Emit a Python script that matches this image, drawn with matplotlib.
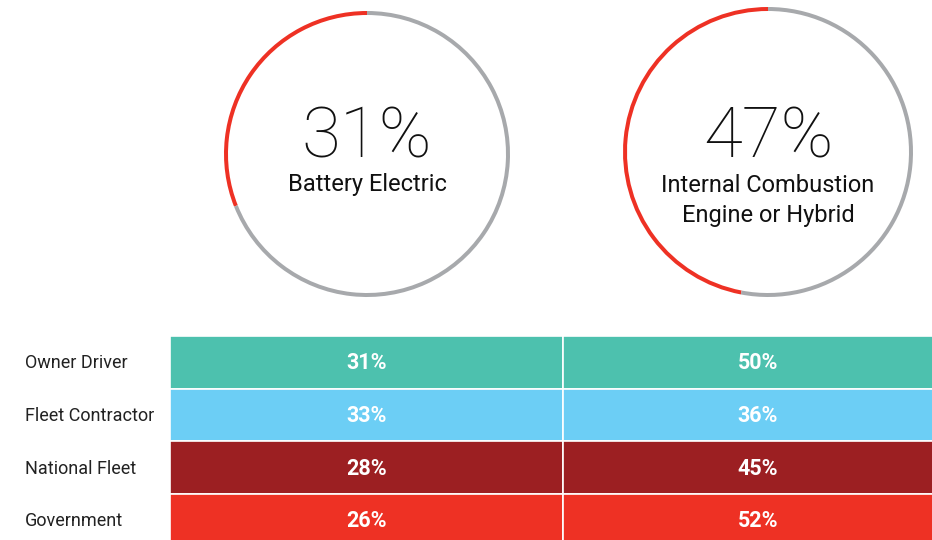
import matplotlib
matplotlib.use("Agg")
import matplotlib.pyplot as plt
import numpy as np

# Headline shares (donuts)
donut_values = [31, 47]
donut_labels = ["Battery Electric", "Internal Combustion\nEngine or Hybrid"]

# Table by segment
segments = ["Owner Driver", "Fleet Contractor", "National Fleet", "Government"]
battery_electric = [31, 33, 28, 26]
ice_or_hybrid = [50, 36, 45, 52]

COLORS = {
    "red": "#EE3124",
    "gray": "#A7A9AC",
    "text": "#111111",
    "rows": ["#4DC1AE", "#6CCEF5", "#9C1F22", "#EE3124"],
}

W, H = 932, 540
fig = plt.figure(figsize=(W / 100, H / 100), dpi=100)
fig.patch.set_facecolor("white")

# donut geometry in pixels: (center x, center y, radius)
donut_geom = [(367, 154, 143), (768, 152, 145)]

for (cx, cy, r), val, lab in zip(donut_geom, donut_values, donut_labels):
    ax = fig.add_axes([(cx - r) / W, 1 - (cy + r) / H, 2 * r / W, 2 * r / H])
    ax.pie([val, 100 - val], startangle=90, counterclock=True,
           colors=[COLORS["red"], COLORS["gray"]],
           wedgeprops=dict(width=4 / r, edgecolor="none"), radius=1)
    ax.set_xlim(-1, 1)
    ax.set_ylim(-1, 1)
    ax.set_aspect("auto")
    ax.axis("off")
    # positions in pixels relative to the donut centre
    ax.text(0, (cy - 138) / r, f"{val}%", ha="center", va="center", fontsize=51,
            family="Roboto", fontweight="light", color=COLORS["text"])
    n_lines = lab.count("\n") + 1
    ax.text(0, (cy - 184 - 16.5 * (n_lines - 1)) / r, lab, ha="center", va="center",
            fontsize=17, family="Roboto", color=COLORS["text"], linespacing=1.4)

# Table as bars
tax = fig.add_axes([0, 0, 1, 1])
tax.set_xlim(0, W)
tax.set_ylim(H, 0)
tax.axis("off")

row_top = 336
row_h = 52.7
col_left = [170, 563]
col_w = [393, 390]
columns = [battery_electric, ice_or_hybrid]

for i, seg in enumerate(segments):
    y0 = row_top + i * row_h
    for j, col in enumerate(columns):
        tax.barh(y0 + row_h / 2, col_w[j], left=col_left[j], height=row_h,
                 color=COLORS["rows"][i], edgecolor="white", linewidth=1.2)
        tax.text(col_left[j] + col_w[j] / 2, y0 + row_h / 2 + 1, f"{col[i]}%",
                 ha="center", va="center", fontsize=15.5, fontweight="bold",
                 family="Roboto", color="white")
    tax.text(25, y0 + row_h / 2 + 1, seg, ha="left", va="center", fontsize=13,
             family="Roboto", color="#222222")

plt.savefig("out.png", dpi=100, facecolor="white")
plt.close()
